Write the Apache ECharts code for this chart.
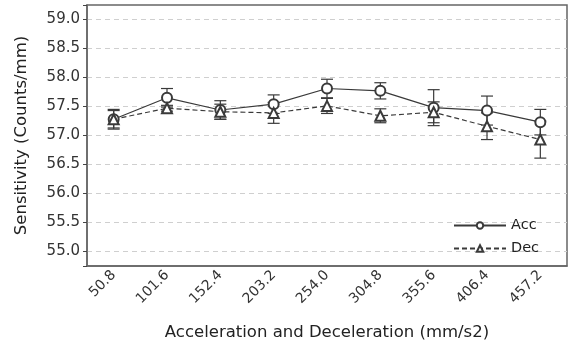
<!DOCTYPE html>
<html>
<head>
<meta charset="utf-8">
<style>html,body{margin:0;padding:0;background:#fff;}#chart{width:572px;height:347px;}</style>
<script src="https://cdn.jsdelivr.net/npm/echarts@6/dist/echarts.min.js"></script>
</head>
<body>
<div id="chart"></div>
<script>
const categories = ["50.8", "101.6", "152.4", "203.2", "254.0", "304.8", "355.6", "406.4", "457.2"];
const accValues = [57.28, 57.65, 57.44, 57.54, 57.81, 57.77, 57.48, 57.43, 57.23];
const accErr = [0.17, 0.16, 0.16, 0.16, 0.16, 0.14, 0.31, 0.25, 0.22];
const decValues = [57.28, 57.47, 57.41, 57.39, 57.51, 57.34, 57.40, 57.16, 56.93];
const decErr = [0.15, 0.05, 0.13, 0.18, 0.13, 0.12, 0.18, 0.23, 0.32];

const ink = "#3a3a3a";
const font = "DejaVu Sans";

function errData(vals, errs) {
  return vals.map((v, i) => [i, v - errs[i], v + errs[i]]);
}

// vertical error bar with caps, placed through the chart's own scales
function errorBar(params, api) {
  const x = api.value(0);
  const lo = api.coord([x, api.value(1)]);
  const hi = api.coord([x, api.value(2)]);
  const w = 6;
  const style = { stroke: ink, lineWidth: 1.2 };
  return {
    type: "group",
    children: [
      { type: "line", shape: { x1: lo[0], y1: lo[1], x2: hi[0], y2: hi[1] }, style },
      { type: "line", shape: { x1: lo[0] - w, y1: lo[1], x2: lo[0] + w, y2: lo[1] }, style },
      { type: "line", shape: { x1: hi[0] - w, y1: hi[1], x2: hi[0] + w, y2: hi[1] }, style }
    ]
  };
}

const chart = echarts.init(document.getElementById("chart"), null, { renderer: "canvas" });
chart.setOption({
  animation: false,
  backgroundColor: "#fff",
  textStyle: { fontFamily: font },
  grid: { left: 87, right: 5, top: 5, bottom: 81, show: true, borderColor: "#666", borderWidth: 1.5 },
  legend: {
    orient: "vertical",
    left: 448,
    top: 213,
    itemWidth: 52,
    itemHeight: 8,
    itemGap: 8,
    textStyle: { fontFamily: font, fontSize: 14.5, color: "#222" },
    data: ["Acc", "Dec"]
  },
  xAxis: {
    type: "category",
    data: categories,
    name: "Acceleration and Deceleration (mm/s2)",
    nameLocation: "middle",
    nameGap: 58,
    nameTextStyle: { fontSize: 16.5, color: "#222" },
    axisLine: { lineStyle: { color: "#666", width: 1.5 } },
    axisTick: { alignWithLabel: true, length: 5, lineStyle: { color: "#444" } },
    axisLabel: { rotate: 45, fontSize: 14, color: "#333", margin: 7 }
  },
  yAxis: {
    type: "value",
    min: 54.75,
    max: 59.25,
    splitNumber: 9,
    name: "Sensitivity (Counts/mm)",
    nameLocation: "middle",
    nameGap: 57,
    nameTextStyle: { fontSize: 16.5, color: "#222" },
    axisLine: { show: true, lineStyle: { color: "#666", width: 1.5 } },
    axisTick: { show: true, length: 4, lineStyle: { color: "#444" } },
    axisLabel: {
      fontSize: 15,
      color: "#333",
      margin: 7,
      formatter: v => (Math.abs(v * 2 - Math.round(v * 2)) < 1e-6 ? v.toFixed(1) : "")
    },
    splitLine: { show: true, showMinLine: false, showMaxLine: false, lineStyle: { color: "#cfcfcf", type: [5, 4], width: 1 } }
  },
  series: [
    { type: "custom", name: "accErr", renderItem: errorBar, data: errData(accValues, accErr), z: 2 },
    { type: "custom", name: "decErr", renderItem: errorBar, data: errData(decValues, decErr), z: 2 },
    {
      type: "line",
      name: "Acc",
      data: accValues,
      symbol: "emptyCircle",
      symbolSize: 10,
      lineStyle: { color: ink, width: 1.2 },
      itemStyle: { color: ink, borderWidth: 1.2 },
      z: 3
    },
    {
      type: "line",
      name: "Dec",
      data: decValues,
      symbol: "emptyTriangle",
      symbolSize: 10,
      lineStyle: { color: ink, width: 1.2, type: [5, 3] },
      itemStyle: { color: ink, borderWidth: 1.2 },
      z: 3
    }
  ]
});
</script>
</body>
</html>
